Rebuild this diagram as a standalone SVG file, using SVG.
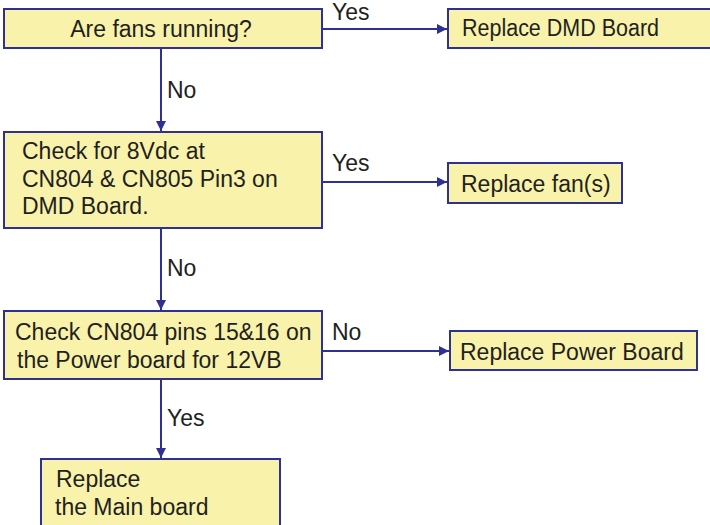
<svg xmlns="http://www.w3.org/2000/svg" width="710" height="525" viewBox="0 0 710 525">
<style>
.box{fill:#f8f2aa;stroke:#2e3192;stroke-width:2}
.t{font-family:"Liberation Sans",Arial,sans-serif;font-size:23px;fill:#231f20}
.c{stroke:#2e3192;stroke-width:2;fill:none;marker-end:url(#ah)}
</style>
<defs>
<marker id="ah" viewBox="0 0 10 10" refX="10" refY="5" markerWidth="10" markerHeight="10" markerUnits="userSpaceOnUse" orient="auto">
<path d="M0,0 L10,5 L0,10 Z" fill="#2e3192"/>
</marker>
</defs>
<rect width="710" height="525" fill="#ffffff"/>
<g id="connectors">
<path class="c" d="M322,29 H447"/>
<path class="c" d="M161,49 V131"/>
<path class="c" d="M322,182 H447"/>
<path class="c" d="M161,228 V310"/>
<path class="c" d="M322,351 H449"/>
<path class="c" d="M161,379 V458"/>
<text class="t" x="332" y="20">Yes</text>
<text class="t" x="167" y="98">No</text>
<text class="t" x="332" y="171">Yes</text>
<text class="t" x="167" y="276">No</text>
<text class="t" x="332" y="340">No</text>
<text class="t" x="167" y="426">Yes</text>
</g>
<g id="q1">
<rect class="box" x="4" y="9" width="318" height="39"/>
<text class="t" x="161" y="37" text-anchor="middle">Are fans running?</text>
</g>
<g id="r1">
<rect class="box" x="448" y="9" width="270" height="39"/>
<text class="t" x="462" y="36" textLength="197" lengthAdjust="spacingAndGlyphs">Replace DMD Board</text>
</g>
<g id="q2">
<rect class="box" x="4" y="132" width="318" height="96"/>
<text class="t" x="22" y="159">Check for 8Vdc at</text>
<text class="t" x="22" y="187">CN804 &amp; CN805 Pin3 on</text>
<text class="t" x="22" y="214">DMD Board.</text>
</g>
<g id="r2">
<rect class="box" x="448" y="163" width="174" height="40"/>
<text class="t" x="461" y="192">Replace fan(s)</text>
</g>
<g id="q3">
<rect class="box" x="4" y="311" width="318" height="68"/>
<text class="t" x="15" y="340">Check CN804 pins 15&amp;16 on</text>
<text class="t" x="17" y="368">the Power board for 12VB</text>
</g>
<g id="r3">
<rect class="box" x="450" y="331" width="247" height="39"/>
<text class="t" x="460" y="360">Replace Power Board</text>
</g>
<g id="r4">
<rect class="box" x="41" y="459" width="239" height="80"/>
<text class="t" x="56" y="487">Replace</text>
<text class="t" x="55" y="515">the Main board</text>
</g>
</svg>
